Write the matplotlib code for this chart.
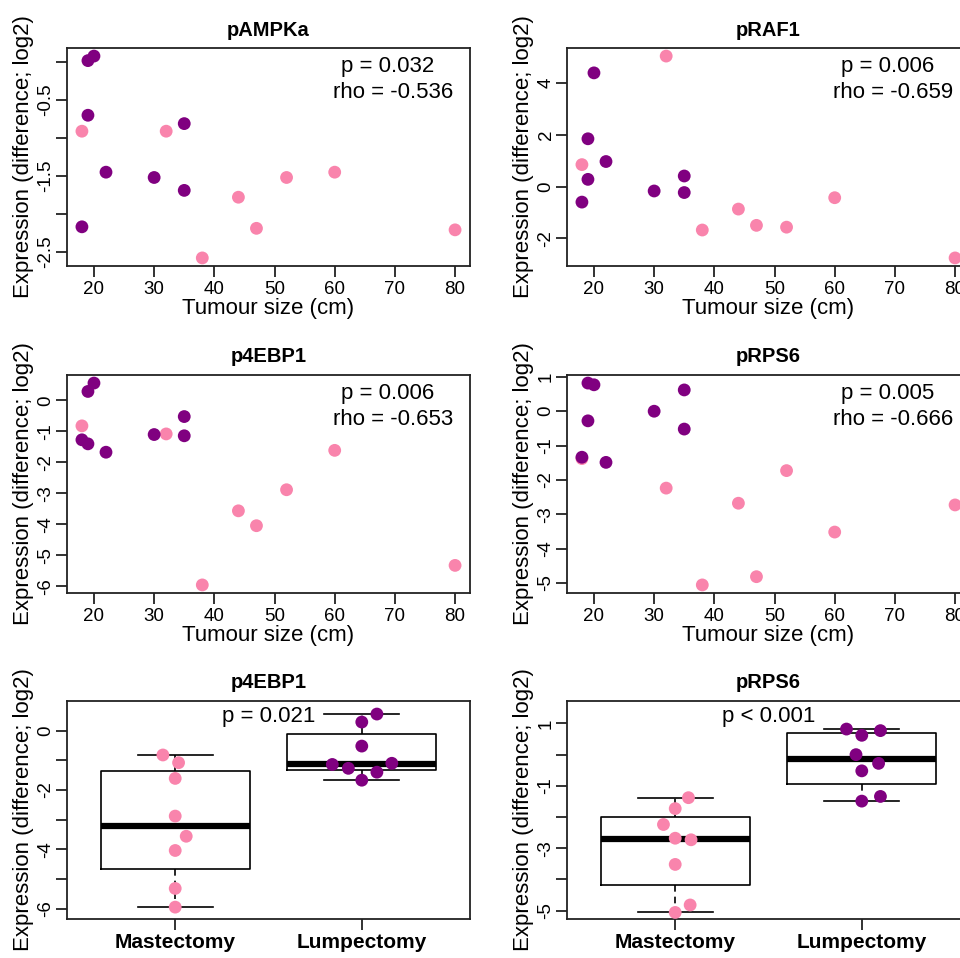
import numpy as np
import matplotlib.pyplot as plt

plt.rcParams['font.family'] = ['Liberation Sans', 'DejaVu Sans']

# tumour sizes (cm) per surgery group
lump_size = [18, 19, 19, 20, 22, 30, 35, 35]
mast_size = [18, 32, 38, 44, 47, 52, 60, 80]

# expression differences (log2), same order as the sizes
pampka_lump = [-2.17, 0.02, -0.70, 0.08, -1.45, -1.52, -0.81, -1.69]
pampka_mast = [-0.91, -0.91, -2.58, -1.78, -2.19, -1.52, -1.45, -2.21]
praf1_lump = [-0.60, 1.85, 0.28, 4.40, 0.97, -0.17, 0.41, -0.23]
praf1_mast = [0.85, 5.05, -1.68, -0.87, -1.50, -1.57, -0.43, -2.76]
p4ebp1_lump = [-1.27, 0.29, -1.40, 0.56, -1.67, -1.10, -0.52, -1.14]
p4ebp1_mast = [-0.82, -1.08, -5.95, -3.56, -4.04, -2.88, -1.61, -5.32]
prps6_lump = [-1.34, 0.82, -0.28, 0.77, -1.49, 0.00, 0.62, -0.52]
prps6_mast = [-1.38, -2.24, -5.06, -2.68, -4.82, -1.73, -3.52, -2.73]

# horizontal jitter of the points in the box plots
p4ebp1_lump_jit = [-0.072, 0.0, 0.081, 0.081, 0.0, 0.161, 0.0, -0.158]
p4ebp1_mast_jit = [-0.066, 0.018, 0.0, 0.059, 0.0, 0.0, 0.0, 0.0]
prps6_lump_jit = [0.10, -0.082, 0.09, 0.10, 0.0, -0.031, 0.0, 0.0]
prps6_mast_jit = [0.071, -0.063, 0.0, 0.0, 0.08, 0.0, 0.0, 0.085]

groups = ['Mastectomy', 'Lumpectomy']

PURPLE = '#800080'
PINK = '#F984AC'
W, H = 960, 958


def add_ax(left, top, w=403, h=218):
    return fig.add_axes([left / W, 1 - (top + h) / H, w / W, h / H])


def r_range(vals):
    lo, hi = min(vals), max(vals)
    pad = 0.04 * (hi - lo)
    return lo - pad, hi + pad


def style(ax, title):
    for s in ax.spines.values():
        s.set_linewidth(1.3)
        s.set_color('#222222')
    ax.tick_params(axis='both', direction='out', length=8, width=1.3,
                   color='#222222', labelsize=13.5, top=False, right=False)
    ax.tick_params(axis='x', pad=3)
    ax.tick_params(axis='y', pad=1)
    ax.set_title(title, fontsize=14.5, fontweight='bold', pad=9)
    ax.set_ylabel('Expression (difference; log2)', fontsize=16)
    ax.yaxis.set_label_coords(-0.107, 0.5)
    ax.yaxis.label.set_va('center')


def set_yticks(ax, ticks, shown):
    ax.set_yticks(ticks)
    labels = [('%g' % t if t in shown else '') for t in ticks]
    ax.set_yticklabels(labels, rotation=90, va='center')


def scatter_panel(ax, title, lump, mast, ptxt, rhotxt, ticks, shown):
    ax.scatter(mast_size, mast, s=85, color=PINK, edgecolors='none', zorder=3)
    ax.scatter(lump_size, lump, s=85, color=PURPLE, edgecolors='none', zorder=3)
    ax.set_xlim(r_range(lump_size + mast_size))
    ax.set_ylim(r_range(lump + mast))
    ax.set_xticks(range(20, 81, 10))
    set_yticks(ax, ticks, shown)
    style(ax, title)
    ax.set_xlabel('Tumour size (cm)', fontsize=16)
    ax.xaxis.set_label_coords(0.5, -0.197)
    ax.xaxis.label.set_va('center')
    ax.text(0.679, 0.915, ptxt, transform=ax.transAxes, fontsize=16, va='center')
    ax.text(0.661, 0.796, rhotxt, transform=ax.transAxes, fontsize=16, va='center')


def tukey(v):
    v = np.sort(np.asarray(v, dtype=float))
    n = len(v)
    med = np.median(v)
    q1 = np.median(v[:(n + 1) // 2])
    q3 = np.median(v[n // 2:])
    iqr = q3 - q1
    lo = v[v >= q1 - 1.5 * iqr].min()
    hi = v[v <= q3 + 1.5 * iqr].max()
    return dict(med=med, q1=q1, q3=q3, whislo=lo, whishi=hi, fliers=[])


def box_panel(ax, title, lump, mast, lump_jit, mast_jit, ptxt, ylim, ticks, shown):
    stats = [tukey(mast), tukey(lump)]
    ax.bxp(stats, positions=[1, 2], widths=0.8, capwidths=0.4,
           boxprops=dict(color='black', lw=1.2),
           whiskerprops=dict(color='black', lw=1.2, linestyle=(0, (4, 3))),
           capprops=dict(color='black', lw=1.2),
           medianprops=dict(color='black', lw=4.5, solid_capstyle='butt'),
           patch_artist=False)
    ax.scatter(1 + np.array(mast_jit), mast, s=85, color=PINK, edgecolors='none', zorder=3)
    ax.scatter(2 + np.array(lump_jit), lump, s=85, color=PURPLE, edgecolors='none', zorder=3)
    ax.set_xlim(0.42, 2.58)
    ax.set_ylim(ylim)
    ax.set_xticks([1, 2])
    ax.set_xticklabels(groups, fontsize=15, fontweight='bold')
    set_yticks(ax, ticks, shown)
    style(ax, title)
    ax.tick_params(axis='x', labelsize=15, pad=2)
    ax.text(1.5, 0.93, ptxt, transform=ax.get_xaxis_transform(), fontsize=16,
            ha='center', va='center')


fig = plt.figure(figsize=(W / 100, H / 100), dpi=100)

ax1 = add_ax(67, 48)
scatter_panel(ax1, 'pAMPKa', pampka_lump, pampka_mast, 'p = 0.032', 'rho = -0.536',
              [0, -0.5, -1, -1.5, -2, -2.5], [-0.5, -1.5, -2.5])

ax2 = add_ax(567, 48)
scatter_panel(ax2, 'pRAF1', praf1_lump, praf1_mast, 'p = 0.006', 'rho = -0.659',
              [-2, 0, 2, 4], [-2, 0, 2, 4])

ax3 = add_ax(67, 375)
scatter_panel(ax3, 'p4EBP1', p4ebp1_lump, p4ebp1_mast, 'p = 0.006', 'rho = -0.653',
              list(range(-6, 1)), list(range(-6, 1)))

ax4 = add_ax(567, 375)
scatter_panel(ax4, 'pRPS6', prps6_lump, prps6_mast, 'p = 0.005', 'rho = -0.666',
              list(range(-5, 2)), list(range(-5, 2)))

ax5 = add_ax(67, 701)
box_panel(ax5, 'p4EBP1', p4ebp1_lump, p4ebp1_mast, p4ebp1_lump_jit, p4ebp1_mast_jit,
          'p = 0.021', (-6.35, 1.0), list(range(-6, 1)), [0, -2, -4, -6])

ax6 = add_ax(567, 701)
box_panel(ax6, 'pRPS6', prps6_lump, prps6_mast, prps6_lump_jit, prps6_mast_jit,
          'p < 0.001', (-5.27, 1.72), list(range(-5, 2)), [1, -1, -3, -5])

fig.savefig('out.png', dpi=100)
